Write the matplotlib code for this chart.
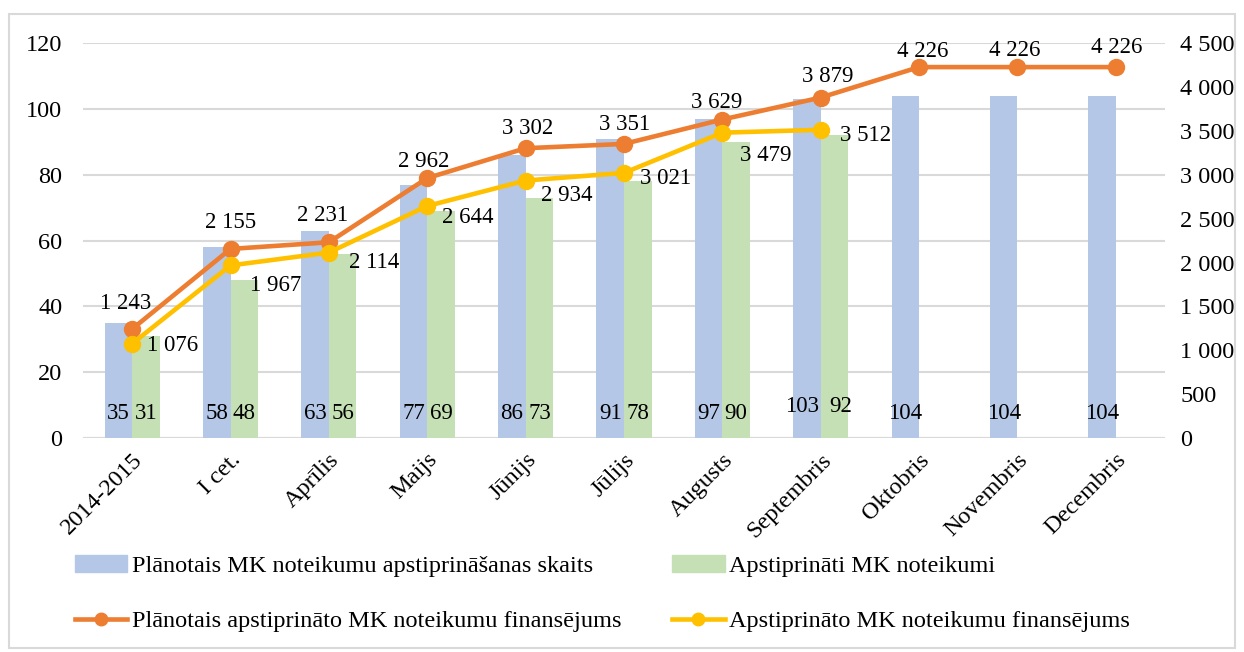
import numpy as np
import matplotlib.pyplot as plt
from matplotlib.patches import Rectangle
from matplotlib.lines import Line2D

plt.rcParams['font.family'] = ['Liberation Serif', 'DejaVu Serif']

# data
months = ['2014-2015', 'I cet.', 'Aprīlis', 'Maijs', 'Jūnijs', 'Jūlijs',
          'Augusts', 'Septembris', 'Oktobris', 'Novembris', 'Decembris']
planned_count = [35, 58, 63, 77, 86, 91, 97, 103, 104, 104, 104]
approved_count = [31, 48, 56, 69, 73, 78, 90, 92]
planned_fin = [1243, 2155, 2231, 2962, 3302, 3351, 3629, 3879, 4226, 4226, 4226]
approved_fin = [1076, 1967, 2114, 2644, 2934, 3021, 3479, 3512]

# label offsets in pixels (hand placed in the original)
planned_off = [(-7, 26), (0, 26), (-6, 27), (-4, 17), (2, 20), (1, 19),
               (-6, 17), (7, 21), (4, 16), (-3, 17), (1, 20)]
approved_off = [(15, -2), (19, -20), (20, -10), (15, -12), (15, -15), (16, -6),
                (18, -23), (19, -6)]

c_blue = '#B4C7E7'
c_green = '#C5E0B4'
c_orange = '#ED7D31'
c_yellow = '#FFC000'
c_grid = '#D9D9D9'
fs = 17.5
fs_lab = 16.5
px = 0.72  # points per pixel at dpi 100


def fmt(v):
    return f'{v:,}'.replace(',', ' ')


fig = plt.figure(figsize=(12.44, 6.52), dpi=100)
fig.patches.append(Rectangle((0.007, 0.006), 0.986, 0.972, transform=fig.transFigure,
                             fill=False, edgecolor=c_grid, linewidth=1.5))

ax = fig.add_axes([0.0667, 0.328, 0.8698, 0.606])
ax2 = ax.twinx()

x = np.arange(len(months))
w = 0.28
xa = np.arange(len(approved_count))
ax.bar(x - w / 2, planned_count, w, color=c_blue, zorder=2)
ax.bar(xa + w / 2, approved_count, w, color=c_green, zorder=2)

# bar value labels near the base; Septembris pair is nudged apart
for i, v in enumerate(planned_count):
    ax.annotate(str(v), (i - w / 2, 9.5 if i == 7 else 7.5),
                xytext=(-5 * px if i == 7 else 0, 0), textcoords='offset points',
                ha='center', va='center', fontsize=fs_lab, zorder=5)
for i, v in enumerate(approved_count):
    ax.annotate(str(v), (i + w / 2, 9.5 if i == 7 else 7.5),
                xytext=(6 * px if i == 7 else 0, 0), textcoords='offset points',
                ha='center', va='center', fontsize=fs_lab, zorder=5)

ax.set_ylim(0, 120)
ax.set_yticks(range(0, 121, 20))
ax.set_xlim(-0.5, len(months) - 0.5)
ax.set_xticks(x)
ax.set_xticklabels(months, rotation=45, ha='right', rotation_mode='anchor', fontsize=fs)
ax.yaxis.grid(True, color=c_grid, linewidth=1.5, zorder=0)
ax.set_axisbelow(True)
ax.tick_params(axis='y', length=0, labelsize=fs, pad=15)
ax.tick_params(axis='x', length=0, labelsize=fs, pad=8)
for s in ax.spines.values():
    s.set_visible(False)
ax.axhline(0, color=c_grid, linewidth=1.5, zorder=1)

ax2.plot(x, planned_fin, color=c_orange, linewidth=3.3, marker='o', markersize=11.5, zorder=4)
ax2.plot(xa, approved_fin, color=c_yellow, linewidth=3.3, marker='o', markersize=11.5, zorder=4)
for i, v in enumerate(planned_fin):
    dx, dy = planned_off[i]
    ax2.annotate(fmt(v), (i, v), xytext=(dx * px, dy * px), textcoords='offset points',
                 ha='center', va='center', fontsize=fs_lab, zorder=6)
for i, v in enumerate(approved_fin):
    dx, dy = approved_off[i]
    ax2.annotate(fmt(v), (i, v), xytext=(dx * px, dy * px), textcoords='offset points',
                 ha='left', va='center', fontsize=fs_lab, zorder=6)

ax2.set_ylim(0, 4500)
ax2.set_yticks(range(0, 4501, 500))
ax2.set_yticklabels([fmt(t) for t in range(0, 4501, 500)])
ax2.tick_params(axis='y', length=0, labelsize=fs, pad=11)
for s in ax2.spines.values():
    s.set_visible(False)

handles = [
    Rectangle((0, 0), 1, 1, color=c_blue),
    Line2D([], [], color=c_orange, linewidth=3.3, marker='o', markersize=9),
    Rectangle((0, 0), 1, 1, color=c_green),
    Line2D([], [], color=c_yellow, linewidth=3.3, marker='o', markersize=9),
]
labels = ['Plānotais MK noteikumu apstiprināšanas skaits',
          'Plānotais apstiprināto MK noteikumu finansējums',
          'Apstiprināti MK noteikumi',
          'Apstiprināto MK noteikumu finansējums']
fig.legend(handles, labels, ncol=2, loc='upper left', bbox_to_anchor=(0.06, 0.149),
           frameon=False, fontsize=fs, handlelength=2.15, handletextpad=0.2,
           columnspacing=2.1, labelspacing=1.38, borderpad=0, borderaxespad=0)

fig.savefig('out.png', dpi=100)
